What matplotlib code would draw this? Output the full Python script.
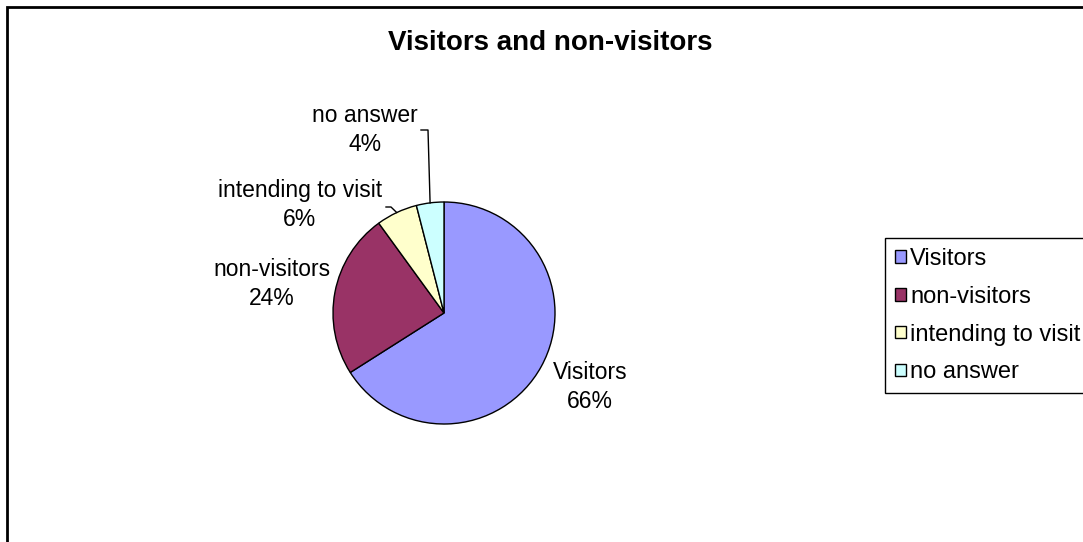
import numpy as np
import matplotlib
matplotlib.use("Agg")
from matplotlib import pyplot as plt
from matplotlib.patches import Rectangle, Patch

plt.rcParams['font.family'] = ['Liberation Sans', 'DejaVu Sans']

# survey answers
categories = ['Visitors', 'non-visitors', 'intending to visit', 'no answer']
shares = [66, 24, 6, 4]
colors = ['#9999FF', '#993366', '#FFFFCC', '#CCFFFF']

W, H = 1083, 542
fig = plt.figure(figsize=(W / 100, H / 100), dpi=100)

# chart area frame (only top and left edges fall inside the image)
fig.patches.append(Rectangle((7 / W, -0.2), 1.2, 1.2 - 7 / H, transform=fig.transFigure,
                             fill=False, edgecolor='black', linewidth=2))

ax = fig.add_axes([0, 0, 1, 1])
cx, cy, r = 444, H - 313, 111
wedges, _ = ax.pie(shares, colors=colors, startangle=90, counterclock=False,
                   center=(cx, cy), radius=r, frame=True,
                   wedgeprops=dict(edgecolor='black', linewidth=1))
ax.set_xlim(0, W)
ax.set_ylim(0, H)
ax.set_aspect('equal')
ax.axis('off')

# label anchor positions (pixels from top-left) and leader-line elbows
label_pos = [(590, 387), (272, 284), (300, 205), (365, 130)]
leaders = {2: [(386, 207), (391, 207)], 3: [(421, 130), (428, 130)]}

for i, (w, name, val) in enumerate(zip(wedges, categories, shares)):
    lx, ly = label_pos[i]
    ax.text(lx, H - ly, '{0}\n{1}%'.format(name, val), ha='center', va='center',
            fontsize=16.5, linespacing=1.38)
    if i in leaders:
        mid = np.deg2rad((w.theta1 + w.theta2) / 2)
        ex, ey = cx + r * np.cos(mid), cy + r * np.sin(mid)
        pts = leaders[i]
        xs = [p[0] for p in pts] + [ex]
        ys = [H - p[1] for p in pts] + [ey]
        ax.plot(xs, ys, color='black', linewidth=1)

fig.text(550 / W, 1 - 43 / H, 'Visitors and non-visitors', ha='center', va='center',
         fontsize=20, fontweight='bold')

handles = [Patch(facecolor=c, edgecolor='black', linewidth=1) for c in colors]
leg = fig.legend(handles, categories, loc='upper left',
                 bbox_to_anchor=(885 / W, 1 - 238 / H), fontsize=17,
                 handlelength=0.45, handleheight=0.45, handletextpad=0.2,
                 labelspacing=0.67, borderpad=0.42, borderaxespad=0,
                 fancybox=False, shadow=False, framealpha=1)
leg.get_frame().set_edgecolor('black')
leg.get_frame().set_linewidth(1)

fig.savefig('out.png', dpi=100)
